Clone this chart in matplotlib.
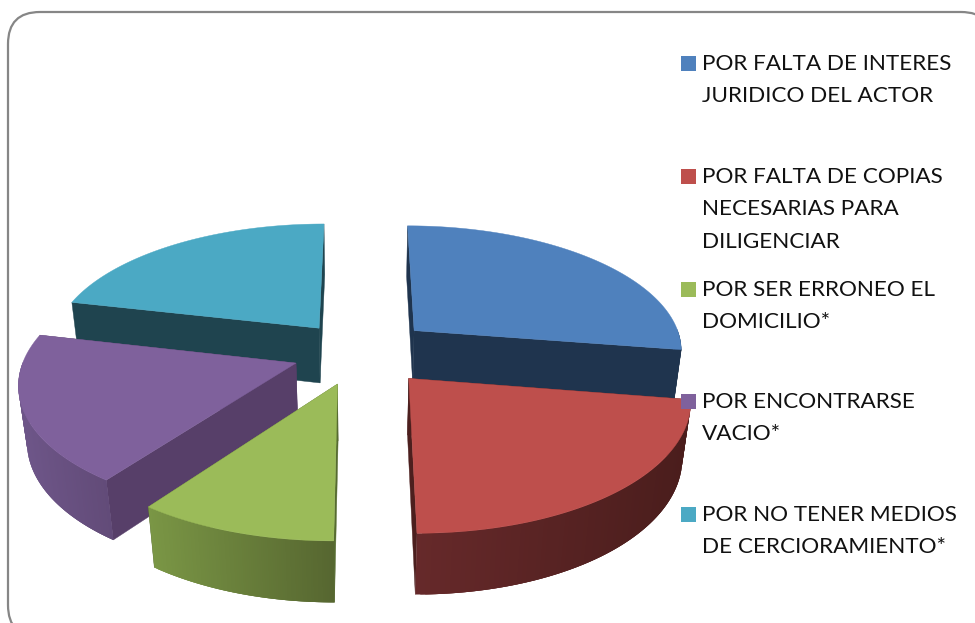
import numpy as np
import matplotlib
matplotlib.use("Agg")
import matplotlib.pyplot as plt
from matplotlib.patches import FancyBboxPatch, Rectangle

# slice values, clockwise from the top
values = [99, 81, 36, 67, 77]
labels = [
    ["POR FALTA DE INTERES", "JURIDICO DEL ACTOR"],
    ["POR FALTA DE COPIAS", "NECESARIAS PARA", "DILIGENCIAR"],
    ["POR SER ERRONEO EL", "DOMICILIO*"],
    ["POR ENCONTRARSE", "VACIO*"],
    ["POR NO TENER MEDIOS", "DE CERCIORAMIENTO*"],
]
top_colors = ["#4F81BD", "#BE4F4C", "#9BBB59", "#7F619C", "#4BA9C4"]
radial_colors = ["#1F344E", "#4C1F1E", "#566B30", "#573F69", "#1F444F"]
wall_left = ["#1F344E", "#66292A", "#7A9645", "#6E5689", "#1F444F"]
wall_right = ["#1F344E", "#4A1D1C", "#566630", "#624B78", "#1F444F"]
explode = [0.27, 0.27, 0.26, 0.25, 0.25]
legend_y = [64, 177, 290, 402, 515]

# layout of the fake 3d projection, in pixels
CX, CY = 360, 352
R = 270
RK = 125
DEPTH = 57
PERSP = 0.14
PERSP_Z = 0.025
draw_order = [4, 0, 3, 2, 1]


def project(x, y, z):
    s = 1 / (1 + PERSP * y + PERSP_Z * z)
    return CX + R * x * s, CY - RK * y * s + DEPTH * z * s


def lerp_color(c1, c2, t):
    a = np.array(matplotlib.colors.to_rgb(c1))
    b = np.array(matplotlib.colors.to_rgb(c2))
    return a + (b - a) * t


fig = plt.figure(figsize=(9.75, 6.23), dpi=100)
ax = fig.add_axes([0, 0, 1, 1])
ax.set_xlim(0, 975)
ax.set_ylim(623, 0)
ax.axis("off")

ax.add_patch(FancyBboxPatch((8, 12), 985, 625, boxstyle="round,pad=0,rounding_size=32",
                            fc="white", ec="#868686", lw=1.6))

edges = np.radians(np.cumsum([0] + values) * 360 / sum(values))

for i in draw_order:
    t1, t2 = edges[i], edges[i + 1]
    mid = (t1 + t2) / 2
    ox, oy = explode[i] * np.sin(mid), explode[i] * np.cos(mid)
    t = np.linspace(t1, t2, 90)
    rx, ry = ox + np.sin(t), oy + np.cos(t)

    # the two flat cuts, far one first
    for a in sorted([t1, t2], key=lambda v: -np.cos(v)):
        ex, ey = ox + np.sin(a), oy + np.cos(a)
        pts = [project(ox, oy, 0), project(ex, ey, 0), project(ex, ey, 1), project(ox, oy, 1)]
        ax.fill(*zip(*pts), color=radial_colors[i], lw=0.3)

    # outer wall, only the part that faces the viewer; quads overlap so no seams show
    tx0, ty0 = project(rx, ry, 0)
    tx1, ty1 = project(rx, ry, 1)
    front = np.where(np.cos(t) <= 0.02)[0]
    if len(front) > 1:
        order = front if tx0[front[0]] < tx0[front[-1]] else front[::-1]
        for n, k in enumerate(order[:-1]):
            f = (tx0[k] - tx0[front].min()) / max(tx0[front].max() - tx0[front].min(), 1)
            between = order[n:min(n + 3, len(order) - 1) + 1]
            ax.fill(np.r_[tx0[between], tx1[between][::-1]],
                    np.r_[ty0[between], ty1[between][::-1]],
                    color=lerp_color(wall_left[i], wall_right[i], f), lw=0)

    ax0, ay0 = project(ox, oy, 0)
    ax.fill(np.r_[ax0, tx0], np.r_[ay0, ty0], color=top_colors[i], lw=0.3)

# legend
for i, lines in enumerate(labels):
    ax.add_patch(Rectangle((681, legend_y[i] - 8.5), 14.5, 15, fc=top_colors[i], ec="none", zorder=5))
    for j, line in enumerate(lines):
        ax.text(702, legend_y[i] + j * 32.3, line, fontsize=16.2, family="Lato",
                color="#111111", va="center", ha="left", zorder=5)

fig.savefig("out.png", dpi=100)
